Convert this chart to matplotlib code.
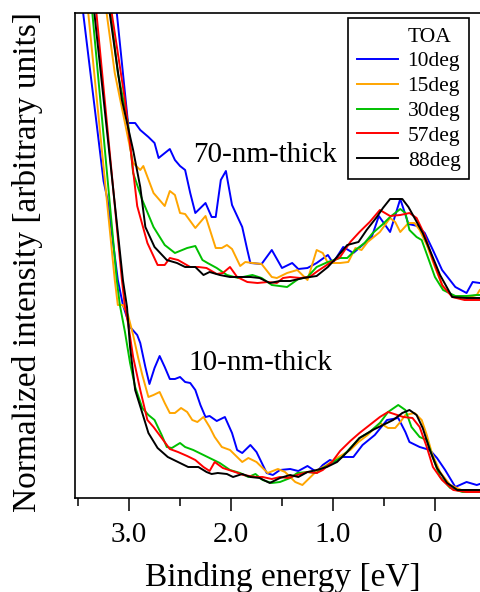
import matplotlib.pyplot as plt
from matplotlib.lines import Line2D

# binding energy [eV] and normalized intensity
# 70-nm-thick film
t70_blue_e = [3.20, 3.12, 3.01, 2.94, 2.89, 2.81, 2.75, 2.71, 2.60, 2.55, 2.50, 2.45, 2.40, 2.35,
              2.25, 2.19, 2.15, 2.10, 2.05, 1.99, 1.89, 1.84, 1.81, 1.70, 1.60, 1.50, 1.40, 1.34,
              1.25, 1.16, 1.05, 1.00, 0.90, 0.80, 0.71, 0.62, 0.55, 0.44, 0.34, 0.26, 0.17, 0.10,
              0.02, -0.07, -0.20, -0.31, -0.37, -0.44]
t70_blue_i = [5.65, 4.85, 3.75, 3.75, 3.68, 3.61, 3.55, 3.40, 3.49, 3.38, 3.32, 3.28, 3.05, 2.85,
              2.95, 2.81, 2.81, 3.18, 3.27, 2.93, 2.71, 2.48, 2.35, 2.34, 2.48, 2.30, 2.35, 2.29,
              2.30, 2.35, 2.43, 2.35, 2.51, 2.45, 2.53, 2.61, 2.82, 2.66, 2.99, 2.74, 2.72, 2.65,
              2.48, 2.28, 2.11, 2.05, 2.16, 2.15]

t70_orange_e = [3.28, 3.22, 3.14, 3.04, 2.96, 2.89, 2.86, 2.76, 2.65, 2.60, 2.55, 2.50, 2.45, 2.35,
                2.25, 2.15, 2.09, 2.04, 1.99, 1.91, 1.86, 1.79, 1.70, 1.60, 1.55, 1.45, 1.35, 1.25,
                1.16, 1.10, 1.05, 0.93, 0.85, 0.78, 0.72, 0.66, 0.54, 0.44, 0.39, 0.34, 0.26, 0.20,
                0.15, 0.08, 0.00, -0.08, -0.18, -0.29, -0.41, -0.44]
t70_orange_i = [5.38, 4.85, 4.25, 3.75, 3.35, 3.28, 3.32, 3.05, 2.92, 3.07, 3.03, 2.85, 2.84, 2.70,
                2.82, 2.50, 2.50, 2.53, 2.49, 2.32, 2.36, 2.35, 2.34, 2.21, 2.20, 2.25, 2.28, 2.18,
                2.48, 2.45, 2.35, 2.35, 2.36, 2.50, 2.48, 2.56, 2.66, 2.80, 2.76, 2.66, 2.75, 2.75,
                2.68, 2.53, 2.31, 2.11, 2.01, 2.00, 2.03, 2.08]

t70_green_e = [3.23, 3.18, 3.11, 3.01, 2.96, 2.87, 2.76, 2.65, 2.55, 2.43, 2.35, 2.28, 2.23, 2.14,
               2.04, 1.93, 1.79, 1.70, 1.60, 1.45, 1.34, 1.25, 1.16, 1.05, 0.93, 0.86, 0.78, 0.69,
               0.61, 0.52, 0.44, 0.34, 0.29, 0.25, 0.18, 0.13, 0.07, 0.00, -0.08, -0.20, -0.31,
               -0.41, -0.44]
t70_green_i = [5.28, 4.85, 4.25, 3.75, 3.25, 2.98, 2.71, 2.53, 2.45, 2.50, 2.52, 2.38, 2.35, 2.30,
               2.23, 2.20, 2.23, 2.20, 2.13, 2.11, 2.19, 2.21, 2.31, 2.36, 2.40, 2.40, 2.48, 2.55,
               2.65, 2.73, 2.81, 2.89, 2.85, 2.68, 2.61, 2.58, 2.41, 2.21, 2.08, 2.02, 2.02,
               2.03, 2.03]

t70_red_e = [3.22, 3.17, 3.04, 2.92, 2.82, 2.72, 2.65, 2.60, 2.52, 2.40, 2.32, 2.24, 2.14, 2.08,
             2.01, 1.94, 1.84, 1.74, 1.64, 1.55, 1.49, 1.42, 1.32, 1.23, 1.15, 1.03, 0.93, 0.83,
             0.74, 0.64, 0.54, 0.44, 0.34, 0.25, 0.18, 0.10, 0.02, -0.07, -0.17, -0.29, -0.44]
t70_red_i = [5.23, 4.85, 3.98, 2.92, 2.55, 2.33, 2.33, 2.40, 2.38, 2.31, 2.31, 2.30, 2.24, 2.25,
             2.31, 2.21, 2.16, 2.15, 2.16, 2.15, 2.20, 2.21, 2.20, 2.21, 2.27, 2.35, 2.41, 2.56,
             2.66, 2.76, 2.88, 2.82, 2.83, 2.85, 2.80, 2.63, 2.38, 2.13, 2.01, 1.98, 1.98]

t70_black_e = [3.24, 3.19, 3.07, 2.96, 2.89, 2.84, 2.75, 2.63, 2.53, 2.45, 2.35, 2.27, 2.21, 2.11,
               2.01, 1.91, 1.81, 1.72, 1.62, 1.52, 1.42, 1.29, 1.16, 1.05, 0.96, 0.86, 0.75, 0.67,
               0.57, 0.51, 0.44, 0.32, 0.26, 0.20, 0.12, 0.05, -0.05, -0.17, -0.31, -0.44]
t70_black_i = [5.33, 4.85, 3.98, 3.48, 3.11, 2.71, 2.51, 2.38, 2.35, 2.31, 2.31, 2.23, 2.26, 2.23,
               2.21, 2.21, 2.21, 2.20, 2.15, 2.17, 2.17, 2.20, 2.22, 2.31, 2.41, 2.53, 2.56, 2.68,
               2.81, 2.90, 2.99, 2.99, 2.91, 2.80, 2.65, 2.48, 2.23, 2.01, 2.00, 2.00]

# 10-nm-thick film
t10_blue_e = [3.49, 3.45, 3.25, 3.21, 3.11, 3.06, 2.99, 2.92, 2.89, 2.84, 2.80, 2.75, 2.70, 2.65,
              2.60, 2.55, 2.50, 2.45, 2.40, 2.35, 2.30, 2.25, 2.21, 2.14, 2.06, 1.99, 1.94, 1.89,
              1.81, 1.75, 1.65, 1.59, 1.52, 1.42, 1.34, 1.25, 1.16, 1.10, 1.03, 0.98, 0.91, 0.80,
              0.71, 0.59, 0.47, 0.36, 0.29, 0.25, 0.15, 0.05, -0.02, -0.10, -0.20, -0.31, -0.41,
              -0.44]
t10_blue_i = [5.19, 4.85, 3.17, 2.98, 2.18, 1.93, 1.71, 1.63, 1.55, 1.31, 1.14, 1.30, 1.42, 1.31,
              1.19, 1.19, 1.21, 1.16, 1.15, 1.08, 0.93, 0.81, 0.82, 0.77, 0.81, 0.65, 0.48, 0.45,
              0.53, 0.46, 0.25, 0.23, 0.28, 0.29, 0.27, 0.32, 0.26, 0.33, 0.38, 0.36, 0.41, 0.41,
              0.53, 0.63, 0.78, 0.80, 0.66, 0.56, 0.51, 0.48, 0.40, 0.28, 0.11, 0.16, 0.13,
              0.14]

t10_orange_e = [3.44, 3.40, 3.14, 3.11, 3.06, 3.01, 2.96, 2.91, 2.87, 2.81, 2.76, 2.70, 2.65, 2.60,
                2.55, 2.49, 2.43, 2.38, 2.33, 2.27, 2.21, 2.16, 2.09, 2.01, 1.89, 1.83, 1.75, 1.64,
                1.54, 1.47, 1.37, 1.30, 1.23, 1.15, 1.06, 0.96, 0.83, 0.75, 0.66, 0.54, 0.46, 0.39,
                0.34, 0.29, 0.20, 0.13, 0.08, 0.03, -0.05, -0.15, -0.26, -0.44]
t10_orange_i = [5.23, 4.85, 2.18, 1.93, 1.93, 1.83, 1.63, 1.40, 1.23, 1.01, 1.03, 1.06, 0.95, 0.85,
                0.85, 0.90, 0.86, 0.78, 0.76, 0.81, 0.71, 0.61, 0.51, 0.48, 0.36, 0.40, 0.36, 0.25,
                0.29, 0.26, 0.16, 0.13, 0.20, 0.28, 0.33, 0.40, 0.48, 0.56, 0.63, 0.75, 0.70, 0.70,
                0.76, 0.83, 0.85, 0.78, 0.63, 0.45, 0.26, 0.13, 0.08, 0.08]

t10_green_e = [3.40, 3.36, 3.12, 3.09, 3.04, 2.99, 2.94, 2.87, 2.81, 2.75, 2.68, 2.63, 2.58, 2.50,
               2.45, 2.37, 2.27, 2.19, 2.11, 2.01, 1.91, 1.83, 1.76, 1.69, 1.60, 1.52, 1.42, 1.35,
               1.25, 1.16, 1.08, 1.00, 0.91, 0.83, 0.74, 0.64, 0.54, 0.46, 0.36, 0.29, 0.23, 0.15,
               0.08, 0.03, -0.05, -0.15, -0.27, -0.44]
t10_green_i = [5.23, 4.85, 2.18, 1.93, 1.66, 1.35, 1.11, 0.90, 0.83, 0.78, 0.63, 0.51, 0.50, 0.55,
               0.51, 0.48, 0.43, 0.39, 0.35, 0.28, 0.25, 0.21, 0.24, 0.18, 0.15, 0.16, 0.20, 0.25,
               0.26, 0.25, 0.31, 0.36, 0.41, 0.50, 0.60, 0.66, 0.75, 0.86, 0.93, 0.88, 0.71, 0.61,
               0.58, 0.43, 0.21, 0.10, 0.06, 0.06]

t10_red_e = [3.36, 3.32, 3.07, 3.04, 3.01, 2.96, 2.89, 2.82, 2.76, 2.68, 2.60, 2.52, 2.43, 2.35,
             2.27, 2.21, 2.16, 2.08, 1.96, 1.88, 1.76, 1.69, 1.60, 1.52, 1.44, 1.35, 1.25, 1.16,
             1.10, 1.01, 0.93, 0.83, 0.74, 0.64, 0.54, 0.46, 0.37, 0.31, 0.22, 0.15, 0.08, 0.02,
             -0.07, -0.18, -0.31, -0.44]
t10_red_i = [5.23, 4.85, 2.18, 1.91, 1.75, 1.41, 1.08, 0.78, 0.71, 0.60, 0.49, 0.46, 0.42, 0.38,
             0.31, 0.27, 0.36, 0.30, 0.26, 0.23, 0.21, 0.21, 0.19, 0.21, 0.20, 0.23, 0.26, 0.25,
             0.28, 0.36, 0.47, 0.57, 0.65, 0.73, 0.81, 0.86, 0.83, 0.81, 0.80, 0.71, 0.51, 0.31,
             0.18, 0.08, 0.06, 0.06]

t10_black_e = [3.38, 3.34, 3.06, 3.02, 2.99, 2.94, 2.87, 2.81, 2.72, 2.62, 2.52, 2.42, 2.32, 2.24,
               2.19, 2.13, 2.04, 1.98, 1.89, 1.81, 1.72, 1.62, 1.52, 1.42, 1.34, 1.25, 1.16, 1.06,
               0.96, 0.86, 0.74, 0.61, 0.51, 0.41, 0.32, 0.25, 0.18, 0.12, 0.05, -0.02, -0.12,
               -0.22, -0.44]
t10_black_i = [5.23, 4.85, 2.18, 1.91, 1.51, 1.08, 0.85, 0.65, 0.50, 0.41, 0.36, 0.31, 0.31, 0.26,
               0.24, 0.25, 0.24, 0.21, 0.24, 0.21, 0.20, 0.15, 0.20, 0.23, 0.21, 0.26, 0.28, 0.31,
               0.36, 0.46, 0.60, 0.68, 0.73, 0.78, 0.85, 0.88, 0.83, 0.70, 0.48, 0.30, 0.15,
               0.08, 0.08]

labels = ["10deg", "15deg", "30deg", "57deg", "88deg"]
colors = ["#0000ff", "#ffa500", "#00c000", "#ff0000", "#000000"]

thick70 = [(t70_blue_e, t70_blue_i), (t70_orange_e, t70_orange_i), (t70_green_e, t70_green_i),
           (t70_red_e, t70_red_i), (t70_black_e, t70_black_i)]
thick10 = [(t10_blue_e, t10_blue_i), (t10_orange_e, t10_orange_i), (t10_green_e, t10_green_i),
           (t10_red_e, t10_red_i), (t10_black_e, t10_black_i)]


def plot():
    plt.rcParams['font.family'] = ['Liberation Serif', 'DejaVu Serif']

    fig = plt.figure(figsize=(4.8, 5.92), dpi=100)
    ax = fig.add_axes([75 / 480, 94 / 592, 415 / 480, 485 / 592])

    for (e, i), c in zip(thick70, colors):
        ax.plot(e, i, color=c, lw=1.4)
    for (e, i), c in zip(thick10, colors):
        ax.plot(e, i, color=c, lw=1.4)

    ax.set_xlim(3.53, -0.54)
    ax.set_ylim(0, 4.85)
    ax.set_xticks([3.0, 2.0, 1.0, 0.0])
    ax.set_xticklabels(["3.0", "2.0", "1.0", "0"])
    ax.set_xticks([3.5, 2.5, 1.5, 0.5], minor=True)
    ax.set_yticks([])
    ax.tick_params(axis='x', which='major', length=9.5, width=1.1, labelsize=21, pad=8)
    ax.tick_params(axis='x', which='minor', length=5.5, width=1.1)
    for s in ax.spines.values():
        s.set_linewidth(1.2)

    ax.set_xlabel("Binding energy [eV]", fontsize=24, labelpad=10)
    ax.set_ylabel("Normalized intensity [arbitrary units]", fontsize=24)
    ax.yaxis.set_label_coords(-0.077, 0.487)

    ax.text(2.37, 3.43, "70-nm-thick", fontsize=21, ha='left', va='center')
    ax.text(2.42, 1.35, "10-nm-thick", fontsize=21, ha='left', va='center')

    handles = [Line2D([], [], color='none')]
    handles += [Line2D([], [], color=c, lw=1.4) for c in colors]
    leg = ax.legend(handles, ["TOA"] + labels, loc='upper right',
                    bbox_to_anchor=(469 / 480, 1 - 18 / 592), bbox_transform=fig.transFigure,
                    borderaxespad=0, fontsize=15.5, frameon=True, fancybox=False,
                    edgecolor='black', framealpha=1, labelspacing=0.22,
                    handlelength=1.9, handletextpad=0.45, borderpad=0.4)
    leg.get_frame().set_linewidth(1.2)

    fig.savefig("out.png", dpi=100)


if __name__ == "__main__":
    plot()
